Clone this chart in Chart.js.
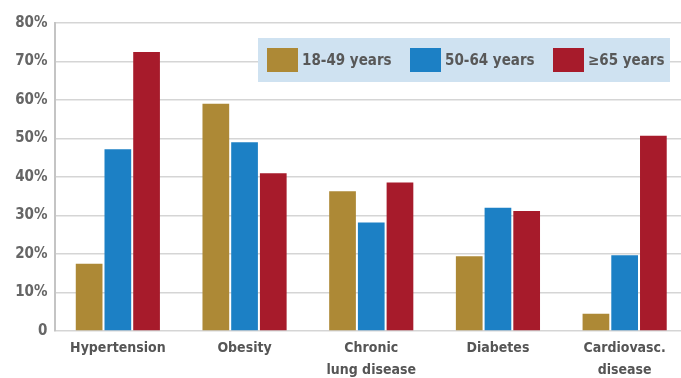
<!DOCTYPE html>
<html>
<head>
<meta charset="utf-8">
<script src="https://cdn.jsdelivr.net/npm/chart.js@4/dist/chart.umd.min.js"></script>
<style>
  html, body { margin: 0; padding: 0; background: #fff; overflow: hidden; }
  #wrap { position: relative; width: 688px; height: 378px; }
</style>
</head>
<body>
<div id="wrap"><canvas id="c"></canvas></div>
<script>
// Conditions and age groups
const categories = ['Hypertension', 'Obesity', ['Chronic', 'lung disease'], 'Diabetes', ['Cardiovasc.', 'disease']];
const seriesNames = ['18-49 years', '50-64 years', '\u226565 years'];
const age18to49 = [17.5, 59, 36.3, 19.4, 4.5];
const age50to64 = [47.2, 49, 28.2, 32, 19.7];
const age65plus = [72.5, 41, 38.6, 31.2, 50.7];
const yTickLabels = ['0', '10%', '20%', '30%', '40%', '50%', '60%', '70%', '80%'];

const colors = ['#ad8936', '#1c80c5', '#a71b2b'];
const fontFamily = "'DejaVu Sans Condensed', 'Liberation Sans Narrow', sans-serif";

// Boxed legend drawn inside the plot, above the grid but under the bars
const boxLegend = {
  id: 'boxLegend',
  beforeDatasetsDraw(chart, args, opts) {
    const ctx = chart.ctx;
    ctx.save();
    ctx.fillStyle = opts.background;
    ctx.fillRect(opts.x, opts.y, opts.width, opts.height);
    ctx.font = 'bold ' + opts.fontSize + 'px ' + fontFamily;
    ctx.textBaseline = 'middle';
    ctx.textAlign = 'left';
    const midY = opts.y + opts.height / 2;
    chart.data.datasets.forEach((ds, i) => {
      const sx = opts.x + opts.firstOffset + i * opts.itemSpacing;
      ctx.fillStyle = ds.backgroundColor;
      ctx.fillRect(sx, midY - opts.boxH / 2, opts.boxW, opts.boxH);
      ctx.fillStyle = opts.color;
      ctx.fillText(ds.label, sx + opts.boxW + opts.textGap, midY + 1);
    });
    ctx.restore();
  }
};

new Chart(document.getElementById('c'), {
  type: 'bar',
  data: {
    labels: categories,
    datasets: [
      { label: seriesNames[0], data: age18to49, backgroundColor: colors[0] },
      { label: seriesNames[1], data: age50to64, backgroundColor: colors[1] },
      { label: seriesNames[2], data: age65plus, backgroundColor: colors[2] }
    ]
  },
  options: {
    responsive: true,
    maintainAspectRatio: false,
    animation: false,
    devicePixelRatio: 1,
    layout: { padding: { top: 23, right: 0, left: 0, bottom: 0 } },
    datasets: { bar: { categoryPercentage: 0.68, barPercentage: 0.93 } },
    plugins: {
      legend: { display: false },
      tooltip: { enabled: false },
      boxLegend: {
        x: 258, y: 38, width: 412, height: 44,
        background: '#cfe2f1',
        firstOffset: 9, itemSpacing: 143,
        boxW: 31, boxH: 24, textGap: 4,
        fontSize: 15, color: '#585858'
      }
    },
    scales: {
      x: {
        grid: { display: false, drawTicks: false },
        border: { display: false },
        ticks: {
          color: '#555',
          font: { family: fontFamily, size: 14, weight: 'bold', lineHeight: 1.55 },
          padding: 7,
          maxRotation: 0,
          autoSkip: false
        },
        afterFit(scale) { scale.height = 47; }
      },
      y: {
        min: 0, max: 80,
        grid: { color: '#d5d5d5', lineWidth: 1.5, drawTicks: false },
        border: { display: true, color: '#c4c4c4', width: 2 },
        ticks: {
          stepSize: 10,
          color: '#666',
          padding: 7,
          font: { family: fontFamily, size: 15, weight: 'bold' },
          callback: (v, i) => yTickLabels[i]
        },
        afterFit(scale) { scale.width = 54.5; }
      }
    }
  },
  plugins: [boxLegend]
});
</script>
</body>
</html>
